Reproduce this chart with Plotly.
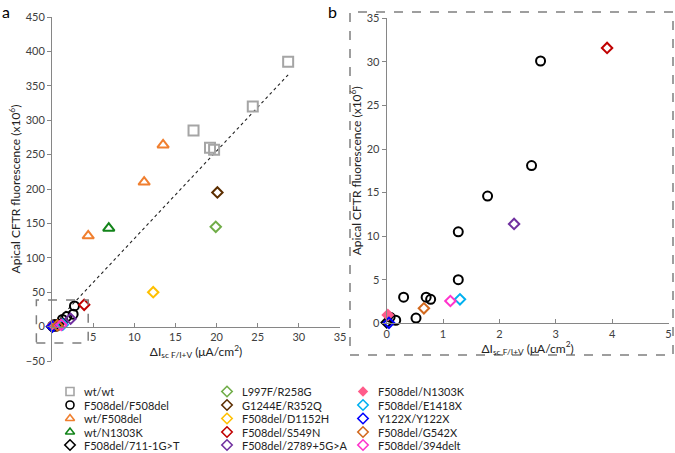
import plotly.graph_objects as go

# ---------------- data ----------------
wtwt_x = [28.7, 24.4, 17.2, 19.2, 19.7]
wtwt_y = [385, 320, 285, 260, 257]
hom_x = [2.73, 2.57, 1.79, 1.27, 1.27, 0.30, 0.70, 0.78, 0.52, 0.16, 0.06]
hom_y = [30.1, 18.1, 14.6, 10.5, 5.0, 3.0, 3.0, 2.75, 0.6, 0.35, 0.7]
wtF_x = [13.5, 11.2, 4.4]
wtF_y = [264, 210, 132]
wtN_x = [6.9]
wtN_y = [143]
d711_x = [0.0]
d711_y = [0.1]
l997_x = [19.9]
l997_y = [145]
g1244_x = [20.1]
g1244_y = [195]
d1152_x = [12.3]
d1152_y = [50]
s549_x = [3.91]
s549_y = [31.6]
c2789_x = [2.26]
c2789_y = [11.4]
n1303_x = [0.02]
n1303_y = [0.95]
e1418_x = [1.30]
e1418_y = [2.75]
y122_x = [0.04]
y122_y = [0.05]
g542_x = [0.66]
g542_y = [1.72]
d394_x = [1.13]
d394_y = [2.56]
trend_x = [0.0, 28.7]
trend_y = [0.5, 366]

a_xticks = [5, 10, 15, 20, 25, 30, 35]
a_yticks = [-50, 0, 50, 100, 150, 200, 250, 300, 350, 400, 450]
b_xticks = [0, 1, 2, 3, 4, 5]
b_yticks = [0, 5, 10, 15, 20, 25, 30, 35]

series = [
    ("wt/wt", wtwt_x, wtwt_y, "square-open", "#A5A5A5", 10),
    ("F508del/F508del", hom_x, hom_y, "circle-open", "#000000", 9),
    ("wt/F508del", wtF_x, wtF_y, "triangle-up-open", "#F07F2F", 10),
    ("wt/N1303K", wtN_x, wtN_y, "triangle-up-open", "#13841A", 10),
    ("F508del/711-1G>T", d711_x, d711_y, "diamond-open", "#000000", 8),
    ("L997F/R258G", l997_x, l997_y, "diamond-open", "#70AD47", 8),
    ("G1244E/R352Q", g1244_x, g1244_y, "diamond-open", "#5C2E00", 8),
    ("F508del/D1152H", d1152_x, d1152_y, "diamond-open", "#FFC000", 8),
    ("F508del/S549N", s549_x, s549_y, "diamond-open", "#C00000", 8),
    ("F508del/2789+5G>A", c2789_x, c2789_y, "diamond-open", "#7030A0", 8),
    ("F508del/N1303K", n1303_x, n1303_y, "diamond", "#FF5C8A", 10),
    ("F508del/E1418X", e1418_x, e1418_y, "diamond-open", "#00B0F0", 8),
    ("Y122X/Y122X", y122_x, y122_y, "diamond-open", "#0000FF", 8),
    ("F508del/G542X", g542_x, g542_y, "diamond-open", "#D2691E", 8),
    ("F508del/394delt", d394_x, d394_y, "diamond-open", "#FF33CC", 8),
]

# ---------------- layout constants ----------------
W, H = 675, 453
FONT = "Lato"
AX_COL = "#868686"
TXT_COL = "#404040"

a_xrange = [0, 35]
a_yrange = [-50, 450]
a_xdom = [52 / W, 340 / W]
a_ydom = [1 - 361 / H, 1 - 17 / H]
b_xrange = [0, 5]
b_yrange = [0, 35]
b_xdom = [386.7 / W, 668.5 / W]
b_ydom = [1 - 323.3 / H, 1 - 18.3 / H]
leg_top = 0.16

fig = go.Figure()

# trendline (panel a)
fig.add_trace(go.Scatter(x=trend_x, y=trend_y, mode="lines",
                         line=dict(color="#222222", width=1.1, dash="dot"),
                         xaxis="x", yaxis="y", showlegend=False, hoverinfo="skip"))

for name, xs, ys, sym, col, sz in series:
    filled = not sym.endswith("open")
    mk = dict(symbol=sym, size=sz, color=col, line=dict(color=col, width=2 if not filled else 0))
    fig.add_trace(go.Scatter(x=xs, y=ys, mode="markers", marker=mk, name=name,
                             xaxis="x", yaxis="y", showlegend=False, cliponaxis=False))
    fig.add_trace(go.Scatter(x=xs, y=ys, mode="markers", marker=mk, name=name,
                             xaxis="x2", yaxis="y2", showlegend=False, cliponaxis=False))

# manual three-column legend on a hidden axis at the bottom (coords == paper)
col_marker_x = [70 / W, 227 / W, 363 / W]
col_text_x = [82 / W, 240 / W, 376 / W]
row_y = [1 - 391.5 / H, 1 - 405 / H, 1 - 418.5 / H, 1 - 432 / H, 1 - 445 / H]
annotations = []
for i, (name, xs, ys, sym, col, sz) in enumerate(series):
    c, r = divmod(i, 5)
    filled = not sym.endswith("open")
    fig.add_trace(go.Scatter(x=[col_marker_x[c]], y=[row_y[r]], mode="markers",
                             marker=dict(symbol=sym, size=8, color=col,
                                         line=dict(color=col, width=1.6 if not filled else 0)),
                             xaxis="x3", yaxis="y3", showlegend=False, cliponaxis=False,
                             hoverinfo="skip"))
    annotations.append(dict(x=col_text_x[c], y=row_y[r], xref="paper", yref="paper",
                            text=name, showarrow=False, xanchor="left", yanchor="middle",
                            font=dict(family=FONT, size=11, color="#222222")))

# panel letters
annotations.append(dict(x=0 / W, y=1 - 0 / H, xref="paper", yref="paper", text="a",
                        showarrow=False, xanchor="left", yanchor="top",
                        font=dict(family=FONT, size=16, color="#000000")))
annotations.append(dict(x=326 / W, y=1 - 0 / H, xref="paper", yref="paper", text="b",
                        showarrow=False, xanchor="left", yanchor="top",
                        font=dict(family=FONT, size=16, color="#000000")))

xtitle = "ΔI<sub>sc F/I+V</sub> (μA/cm<sup>2</sup>)"
ytitle = "Apical CFTR fluorescence (x10<sup>6</sup>)"
tickfont = dict(family=FONT, size=11, color=TXT_COL)
titlefont = dict(family=FONT, size=12, color="#222222")


def dom(v, r):
    return (v - r[0]) / (r[1] - r[0])


shapes = [
    # zoom box on panel a
    dict(type="rect", xref="x domain", yref="y domain",
         x0=dom(-1.9, a_xrange), x1=dom(4.4, a_xrange),
         y0=dom(-23.7, a_yrange), y1=dom(38.8, a_yrange),
         line=dict(color="#7F7F7F", width=1.5, dash="dash")),
    # frame around panel b
    dict(type="rect", xref="paper", yref="paper",
         x0=350 / W, x1=673 / W, y0=1 - 355 / H, y1=1 - 12 / H,
         line=dict(color="#7F7F7F", width=1.5, dash="dash")),
]

x_zero_pos = a_ydom[0] + dom(0, a_yrange) * (a_ydom[1] - a_ydom[0])

common = dict(showgrid=False, zeroline=False, automargin=False, tickcolor=AX_COL, ticklen=4,
              showline=True, linecolor=AX_COL, linewidth=1, tickfont=tickfont)

fig.update_layout(
    width=W, height=H,
    margin=dict(l=0, r=0, t=0, b=0, autoexpand=False),
    paper_bgcolor="white", plot_bgcolor="rgba(0,0,0,0)",
    font=dict(family=FONT, color=TXT_COL),
    showlegend=False,
    annotations=annotations,
    shapes=shapes,
    xaxis=dict(domain=a_xdom, range=a_xrange, anchor="free", position=x_zero_pos,
               tickvals=a_xticks, ticks="inside",
               title=dict(text=xtitle, font=titlefont, standoff=2), **common),
    yaxis=dict(domain=a_ydom, range=a_yrange, anchor="x", tickvals=a_yticks, ticks="outside",
               title=dict(text=ytitle, font=titlefont, standoff=2), **common),
    xaxis2=dict(domain=b_xdom, range=b_xrange, anchor="y2", tickvals=b_xticks, ticks="inside",
                title=dict(text=xtitle, font=titlefont, standoff=2), **common),
    yaxis2=dict(domain=b_ydom, range=b_yrange, anchor="x2", tickvals=b_yticks, ticks="outside",
                title=dict(text=ytitle, font=titlefont, standoff=2), **common),
    xaxis3=dict(domain=[0, 1], range=[0, 1], anchor="y3", visible=False, fixedrange=True),
    yaxis3=dict(domain=[0, leg_top], range=[0, leg_top], anchor="x3", visible=False,
                fixedrange=True),
)

fig.write_html("out.html", config={"displayModeBar": False},
               post_script="document.body.style.margin='0';document.body.style.overflow='hidden';")
